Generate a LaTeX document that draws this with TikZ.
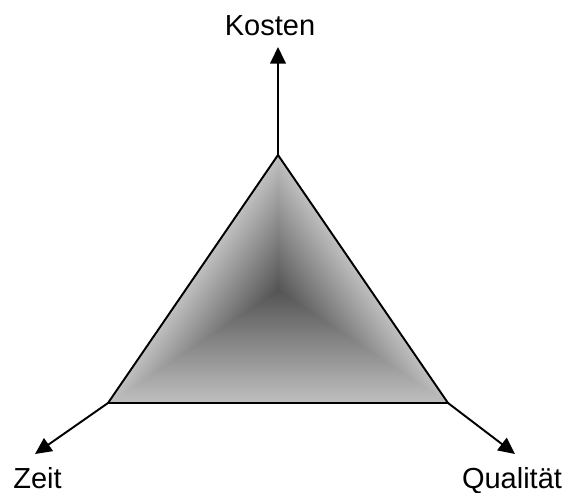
\documentclass[tikz,border=0pt]{standalone}
\usepackage{fontspec}
\setmainfont{Liberation Sans}
\usetikzlibrary{arrows.meta}
\definecolor{rimgray}{gray}{0.75}
\definecolor{coregray}{gray}{0.33}

\begin{document}
\begin{tikzpicture}[
    font=\fontsize{16.5}{19}\selectfont,
    axis/.style={-{Triangle[length=3.3mm,width=3.1mm]},line width=1.1pt},
    rim/.style={line width=1.1pt,line join=miter},
    wedge/.style={bottom color=rimgray,top color=coregray,blend mode=lighten}
]
\useasboundingbox (0,0) rectangle (11.32,-9.84);
\coordinate (top) at (5.56,-3.1);
\coordinate (left) at (2.16,-8.06);
\coordinate (right) at (8.96,-8.06);
\coordinate (core) at (5.56,-5.8);
\coordinate (kosten-tip) at (5.56,-0.94);
\coordinate (zeit-tip) at (0.7,-9.08);
\coordinate (qualitaet-tip) at (10.3,-9.08);

% dark core, then one ramp per side (the lightest one wins)
\begin{scope}
  \clip (top) -- (left) -- (right) -- cycle;
  \fill[coregray] (top) -- (left) -- (right) -- cycle;
  \shade[wedge] (2,-8.06) rectangle (9.1,-5.8);
  \begin{scope}[transform canvas={shift={(top)},rotate=235.57}]
    \shade[wedge] (-0.5,0) rectangle (6.5,1.527);
  \end{scope}
  \begin{scope}[transform canvas={shift={(right)},rotate=124.43}]
    \shade[wedge] (-0.5,0) rectangle (6.5,1.527);
  \end{scope}
\end{scope}

\draw[axis] (top) -- (kosten-tip);
\draw[axis] (left) -- (zeit-tip);
\draw[axis] (right) -- (qualitaet-tip);
\draw[rim] (top) -- (left) -- (right) -- cycle;

\node[anchor=base] (kosten) at (5.4,-0.7) {Kosten};
\node[anchor=base] (zeit) at (0.75,-9.77) {Zeit};
\node[anchor=base] (qualitaet) at (10.24,-9.77) {Qualität};
\end{tikzpicture}
\end{document}
